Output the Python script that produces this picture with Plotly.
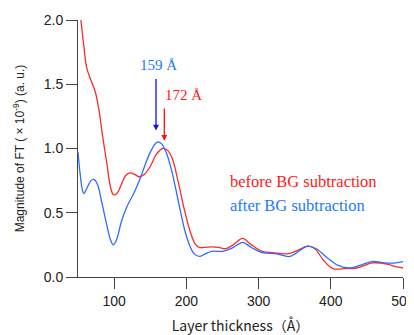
import plotly.graph_objects as go

# before BG subtraction (red)
x_before = [54, 58, 62, 68, 74, 79, 84, 90, 95, 99, 104, 110, 116, 122, 128, 135, 142, 150, 158, 167,
            173, 180, 188, 197, 205, 212, 218, 225, 235, 245, 254, 265, 278, 290, 305, 320, 340, 355,
            368, 378, 390, 403, 420, 436, 458, 478, 490, 500]
y_before = [2.0, 1.8, 1.63, 1.53, 1.44, 1.3, 1.1, 0.88, 0.7, 0.64, 0.65, 0.72, 0.79, 0.81, 0.80, 0.78,
            0.80, 0.86, 0.95, 1.0, 0.99, 0.93, 0.76, 0.53, 0.36, 0.26, 0.23, 0.23, 0.235, 0.23, 0.22,
            0.25, 0.30, 0.25, 0.20, 0.19, 0.18, 0.21, 0.24, 0.22, 0.13, 0.065, 0.065, 0.07, 0.11, 0.10,
            0.08, 0.07]

# after BG subtraction (blue)
x_after = [50, 53, 56, 58, 63, 68, 72, 77, 83, 90, 95, 99, 104, 110, 118, 128, 137, 144, 150, 156,
           160, 165, 172, 180, 190, 198, 205, 211, 218, 226, 235, 250, 265, 278, 290, 305, 325, 343,
           358, 368, 380, 395, 410, 426, 440, 457, 475, 490, 500]
y_after = [0.97, 0.80, 0.68, 0.65, 0.70, 0.75, 0.76, 0.72, 0.58, 0.40, 0.29, 0.25, 0.30, 0.43, 0.55,
           0.66, 0.78, 0.89, 0.97, 1.03, 1.05, 1.04, 0.97, 0.82, 0.56, 0.36, 0.24, 0.18, 0.16, 0.18,
           0.20, 0.20, 0.23, 0.27, 0.23, 0.19, 0.18, 0.16, 0.21, 0.24, 0.22, 0.15, 0.09, 0.07, 0.09,
           0.12, 0.11, 0.11, 0.12]

x_ticks = [100, 200, 300, 400, 500]
y_ticks = [0.0, 0.5, 1.0, 1.5, 2.0]
y_tick_text = ["0.0", "0.5", "1.0", "1.5", "2.0"]

peak_after = 159
peak_before = 172

RED = "#ff2a2a"
BLUE = "#2f6bff"

fig = go.Figure()
fig.add_trace(go.Scatter(x=x_before, y=y_before, mode="lines", line=dict(color=RED, width=1.3, shape="spline", smoothing=1.0),
                         name="before BG subtraction", showlegend=False))
fig.add_trace(go.Scatter(x=x_after, y=y_after, mode="lines", line=dict(color=BLUE, width=1.3, shape="spline", smoothing=1.0),
                         name="after BG subtraction", showlegend=False))

serif = "Liberation Serif, Times New Roman, serif"
# arrows
fig.add_annotation(x=peak_after - 1, y=1.14, ax=peak_after - 1, ay=1.56, xref="x", yref="y", axref="x", ayref="y",
                   showarrow=True, arrowhead=2, arrowsize=0.9, arrowwidth=1.3, arrowcolor="#1010ee", text=" ",
                   font=dict(size=2))
fig.add_annotation(x=peak_before - 2.5, y=1.06, ax=peak_before - 2.5, ay=1.33, xref="x", yref="y", axref="x", ayref="y",
                   showarrow=True, arrowhead=2, arrowsize=0.9, arrowwidth=1.3, arrowcolor="#ff1010", text=" ",
                   font=dict(size=2))
fig.add_annotation(x=162, y=1.65, xref="x", yref="y", text=f"{peak_after} Å", showarrow=False,
                   font=dict(family=serif, size=15, color="#1e78ff"))
fig.add_annotation(x=196, y=1.42, xref="x", yref="y", text=f"{peak_before} Å", showarrow=False,
                   font=dict(family=serif, size=15, color="#ff2020"))

# the page body has an 8px default margin, so the figure is drawn at (8, 8)
OFF = 8
L, R, T, B = 78 - OFF, 11, 20 - OFF, 58
W, H = 414 - OFF, 335 - OFF
pw, ph = W - L - R, H - T - B

def px_to_paper(px, py):
    return (px - OFF - L) / pw, 1 - (py - OFF - T) / ph

# text legend
lx, ly = px_to_paper(228, 181)
fig.add_annotation(x=lx, y=ly, xref="paper", yref="paper", text="before BG subtraction", showarrow=False,
                   xanchor="left", yanchor="middle", font=dict(family=serif, size=16.5, color="#ff1a1a"))
lx, ly = px_to_paper(228, 205)
fig.add_annotation(x=lx, y=ly, xref="paper", yref="paper", text="after BG subtraction", showarrow=False,
                   xanchor="left", yanchor="middle", font=dict(family=serif, size=16.5, color="#1e78ff"))

fig.update_layout(
    width=W, height=H,
    margin=dict(l=L, r=R, t=T, b=B),
    plot_bgcolor="white", paper_bgcolor="white",
    font=dict(family="Liberation Sans, Arial, sans-serif", size=14, color="#222"),
)
fig.update_xaxes(range=[50, 500], tickvals=x_ticks, ticks="outside", ticklen=11, tickcolor="#444", tickwidth=1,
                 showline=True, linecolor="#444", linewidth=1, showgrid=False, zeroline=False, automargin=False,
                 ticklabeloverflow="allow",
                 tickfont=dict(size=14, family="Liberation Sans, Arial, sans-serif"),
                 title=dict(text="Layer thickness（Å）", font=dict(size=14, family="Noto Sans CJK JP"), standoff=15))
fig.update_yaxes(range=[0, 2.0], tickvals=y_ticks, ticktext=y_tick_text, ticks="outside", ticklen=11, tickcolor="#444",
                 tickwidth=1, showline=True, linecolor="#444", linewidth=1, showgrid=False, zeroline=False, automargin=False,
                 tickfont=dict(size=14, family="Liberation Sans, Arial, sans-serif"),
                 title=dict(text="Magnitude of FT ( × 10<sup>-9</sup>) (a. u.)", font=dict(size=12), standoff=16))

fig.write_html("out.html")
